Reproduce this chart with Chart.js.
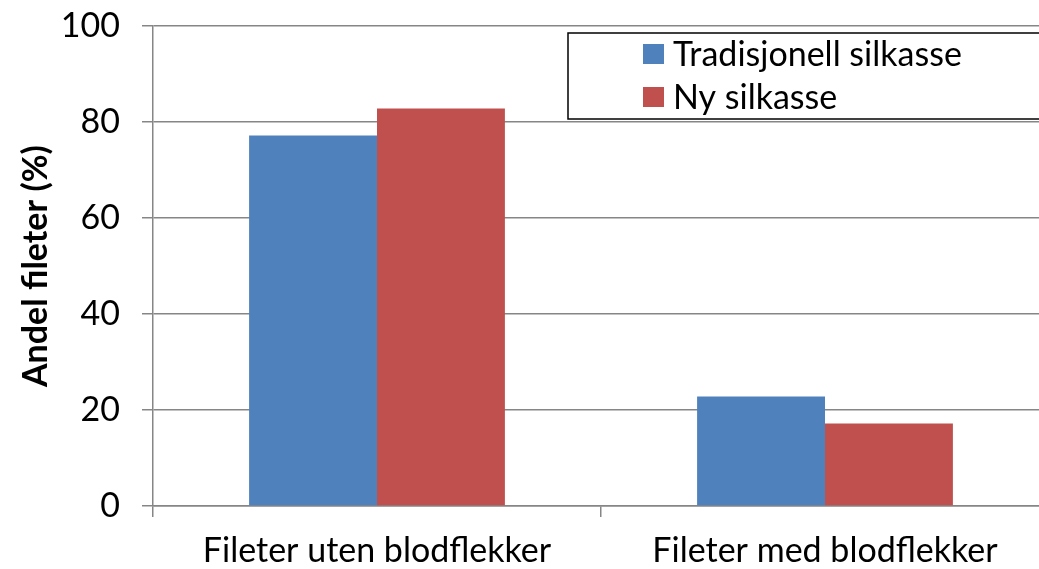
<!DOCTYPE html>
<html>
<head>
<meta charset="utf-8">
<script src="https://cdn.jsdelivr.net/npm/chart.js@4.4.1/dist/chart.umd.min.js"></script>
<style>
  html, body { margin: 0; padding: 0; background: #fff; overflow: hidden; }
  #wrap { width: 1039px; height: 569px; overflow: hidden; }
  canvas { display: block; }
</style>
</head>
<body>
<div id="wrap"><canvas id="c" width="1050" height="569"></canvas></div>
<script>
const categories = ["Fileter uten blodflekker", "Fileter med blodflekker"];
const seriesNames = ["Tradisjonell silkasse", "Ny silkasse"];
const tradisjonell = [77.2, 22.8];
const ny = [82.8, 17.2];
const yTitle = "Andel fileter (%)";
const colors = ["#4F81BD", "#C0504D"];

const FONT = "Lato, 'Open Sans', sans-serif";

const legendBox = {
  id: 'legendBox',
  afterDraw(chart) {
    const ctx = chart.ctx;
    ctx.save();
    const x0 = 568, y0 = 33, x1 = 1046, y1 = 119;
    ctx.fillStyle = '#fff';
    ctx.fillRect(x0, y0, x1 - x0, y1 - y0);
    ctx.strokeStyle = '#000';
    ctx.lineWidth = 1.5;
    ctx.strokeRect(x0, y0, x1 - x0, y1 - y0);
    ctx.font = "34px " + FONT;
    ctx.textBaseline = 'middle';
    ctx.textAlign = 'left';
    chart.data.datasets.forEach((ds, i) => {
      const cy = 54 + i * 43;
      ctx.fillStyle = ds.backgroundColor;
      ctx.fillRect(643, cy - 10, 21, 20);
      ctx.fillStyle = '#000';
      ctx.fillText(ds.label, 673, cy + 1);
    });
    ctx.restore();
  }
};

new Chart(document.getElementById('c'), {
  type: 'bar',
  data: {
    labels: categories,
    datasets: [
      { label: seriesNames[0], data: tradisjonell, backgroundColor: colors[0] },
      { label: seriesNames[1], data: ny, backgroundColor: colors[1] }
    ]
  },
  options: {
    responsive: false,
    animation: false,
    devicePixelRatio: 1,
    layout: { padding: { top: 26, right: 1, left: 0, bottom: 0 } },
    datasets: { bar: { barPercentage: 1.0, categoryPercentage: 0.571 } },
    plugins: { legend: { display: false }, tooltip: { enabled: false } },
    scales: {
      x: {
        grid: { display: true, drawOnChartArea: false, drawTicks: true, tickLength: 11, color: '#868686', lineWidth: 1.5, offset: true },
        border: { display: true, color: '#868686', width: 1.5 },
        ticks: { color: '#000', font: { size: 34, family: FONT }, padding: 14, maxRotation: 0 },
        afterFit(s) { s.height = 63; s.paddingLeft = 0; s.paddingRight = 0; }
      },
      y: {
        min: 0, max: 100,
        ticks: { stepSize: 20, color: '#000', font: { size: 34, family: FONT }, padding: 22 },
        grid: { color: '#868686', lineWidth: 1.5, tickLength: 11 },
        border: { display: true, color: '#868686', width: 1.5 },
        title: { display: true, text: yTitle, color: '#000', font: { size: 34, weight: 'bold', family: FONT }, padding: { top: 16, bottom: 0 } },
        afterFit(s) { s.width = 153; s.paddingTop = 0; s.paddingBottom = 0; }
      }
    }
  },
  plugins: [legendBox]
});
</script>
</body>
</html>
